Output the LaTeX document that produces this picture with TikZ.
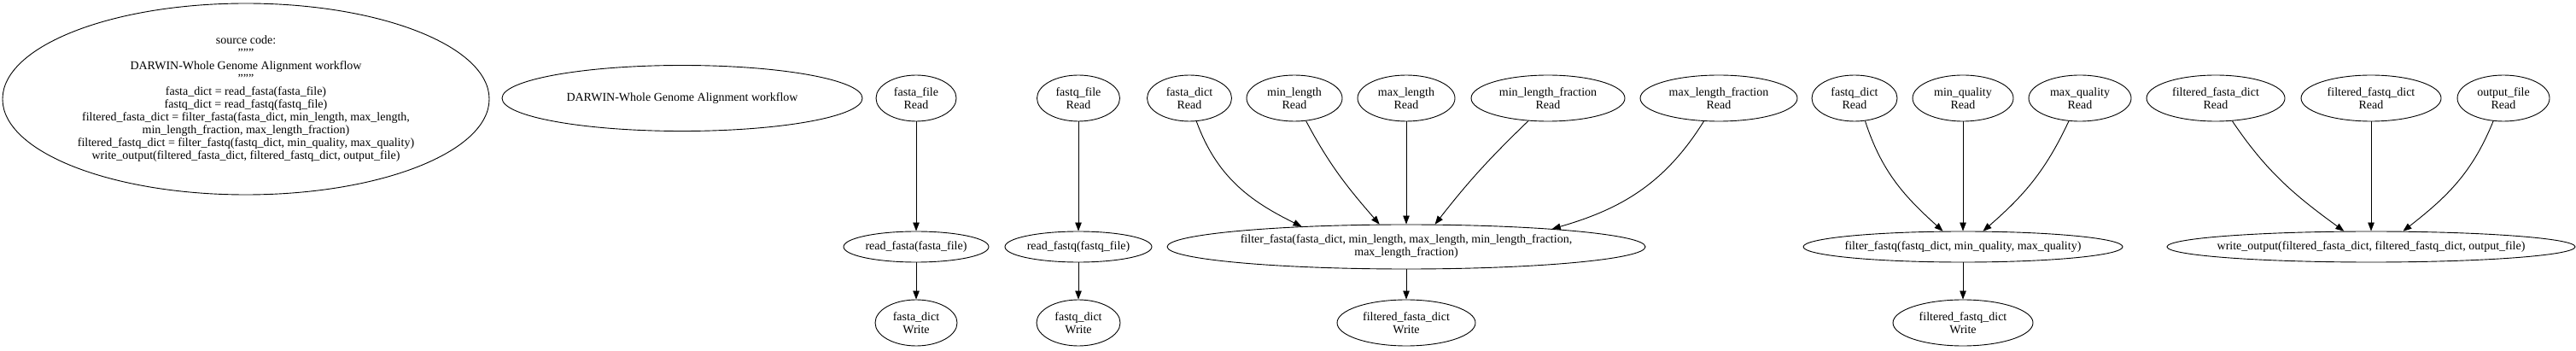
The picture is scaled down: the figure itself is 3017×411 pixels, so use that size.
\documentclass[tikz,border=0pt]{standalone}
\usepackage{fontspec}
\setmainfont{Liberation Serif}
\usetikzlibrary{shapes.geometric, arrows.meta}

\begin{document}
\begin{tikzpicture}[x=1pt, y=1pt, line width=0.9pt,
  blob/.style={draw, ellipse, inner sep=-40pt, align=center, font=\fontsize{14}{15}\selectfont},
  flow/.style={-{Triangle[length=10pt, width=7.5pt]}}]
  \useasboundingbox (0,0) rectangle (3017,-411);
  \node[blob, minimum width=570, minimum height=224] (src) at (288,-116) {source code:\\"""\\DARWIN-Whole Genome Alignment workflow\\"""\\fasta\_dict = read\_fasta(fasta\_file)\\fastq\_dict = read\_fastq(fastq\_file)\\filtered\_fasta\_dict = filter\_fasta(fasta\_dict, min\_length, max\_length,\\min\_length\_fraction, max\_length\_fraction)\\filtered\_fastq\_dict = filter\_fastq(fastq\_dict, min\_quality, max\_quality)\\write\_output(filtered\_fasta\_dict, filtered\_fastq\_dict, output\_file)};
  \node[blob, minimum width=422, minimum height=77] (title) at (799,-115) {DARWIN-Whole Genome Alignment workflow};
  % read nodes
  \node[blob, minimum width=94, minimum height=54] (ffileR) at (1073,-115) {fasta\_file\\Read};
  \node[blob, minimum width=97, minimum height=54] (qfileR) at (1263,-115) {fastq\_file\\Read};
  \node[blob, minimum width=99, minimum height=54] (fdictR) at (1393,-115) {fasta\_dict\\Read};
  \node[blob, minimum width=112, minimum height=54] (minlenR) at (1516,-115) {min\_length\\Read};
  \node[blob, minimum width=114, minimum height=54] (maxlenR) at (1647,-115) {max\_length\\Read};
  \node[blob, minimum width=180, minimum height=54] (minfracR) at (1813,-115) {min\_length\_fraction\\Read};
  \node[blob, minimum width=184, minimum height=54] (maxfracR) at (2013,-115) {max\_length\_fraction\\Read};
  \node[blob, minimum width=100, minimum height=54] (qdictR) at (2172,-115) {fastq\_dict\\Read};
  \node[blob, minimum width=118, minimum height=54] (minqR) at (2299,-115) {min\_quality\\Read};
  \node[blob, minimum width=120, minimum height=54] (maxqR) at (2436,-115) {max\_quality\\Read};
  \node[blob, minimum width=162, minimum height=54] (ffdictR) at (2595,-115) {filtered\_fasta\_dict\\Read};
  \node[blob, minimum width=164, minimum height=54] (fqdictR) at (2777,-115) {filtered\_fastq\_dict\\Read};
  \node[blob, minimum width=108, minimum height=54] (outR) at (2932,-115) {output\_file\\Read};
  % calls
  \node[blob, minimum width=170, minimum height=36] (rdfasta) at (1073,-289) {read\_fasta(fasta\_file)};
  \node[blob, minimum width=172, minimum height=36] (rdfastq) at (1263,-289) {read\_fastq(fastq\_file)};
  \node[blob, minimum width=560, minimum height=52] (filtfasta) at (1647,-289) {filter\_fasta(fasta\_dict, min\_length, max\_length, min\_length\_fraction,\\max\_length\_fraction)};
  \node[blob, minimum width=374, minimum height=36] (filtfastq) at (2299,-289) {filter\_fastq(fastq\_dict, min\_quality, max\_quality)};
  \node[blob, minimum width=478, minimum height=36] (wout) at (2777,-289) {write\_output(filtered\_fasta\_dict, filtered\_fastq\_dict, output\_file)};
  % write nodes
  \node[blob, minimum width=96, minimum height=54] (fdictW) at (1073,-378) {fasta\_dict\\Write};
  \node[blob, minimum width=98, minimum height=54] (qdictW) at (1263,-378) {fastq\_dict\\Write};
  \node[blob, minimum width=162, minimum height=54] (ffdictW) at (1647,-378) {filtered\_fasta\_dict\\Write};
  \node[blob, minimum width=164, minimum height=54] (fqdictW) at (2299,-378) {filtered\_fastq\_dict\\Write};
  \draw[flow] (ffileR) -- (rdfasta);
  \draw[flow] (rdfasta) -- (fdictW);
  \draw[flow] (qfileR) -- (rdfastq);
  \draw[flow] (rdfastq) -- (qdictW);
  \draw[flow] (fdictR.-73) to[out=-70, in=154] (filtfasta.169);
  \draw[flow] (minlenR.-63) to[out=-62, in=131] (filtfasta.140);
  \draw[flow] (maxlenR) -- (filtfasta);
  \draw[flow] (minfracR.-131) to[out=-136, in=52] (filtfasta.38);
  \draw[flow] (maxfracR.-123) to[out=-122, in=16] (filtfasta.7);
  \draw[flow] (filtfasta) -- (ffdictW);
  \draw[flow] (qdictR.-65) to[out=-72, in=138] (filtfastq.142);
  \draw[flow] (minqR) -- (filtfastq);
  \draw[flow] (maxqR.-116) to[out=-115, in=41] (filtfastq.38);
  \draw[flow] (filtfastq) -- (fqdictW);
  \draw[flow] (ffdictR.-54) to[out=-56, in=144] (wout.150);
  \draw[flow] (fqdictR) -- (wout);
  \draw[flow] (outR.-114) to[out=-112, in=38] (wout.26);
\end{tikzpicture}
\end{document}
